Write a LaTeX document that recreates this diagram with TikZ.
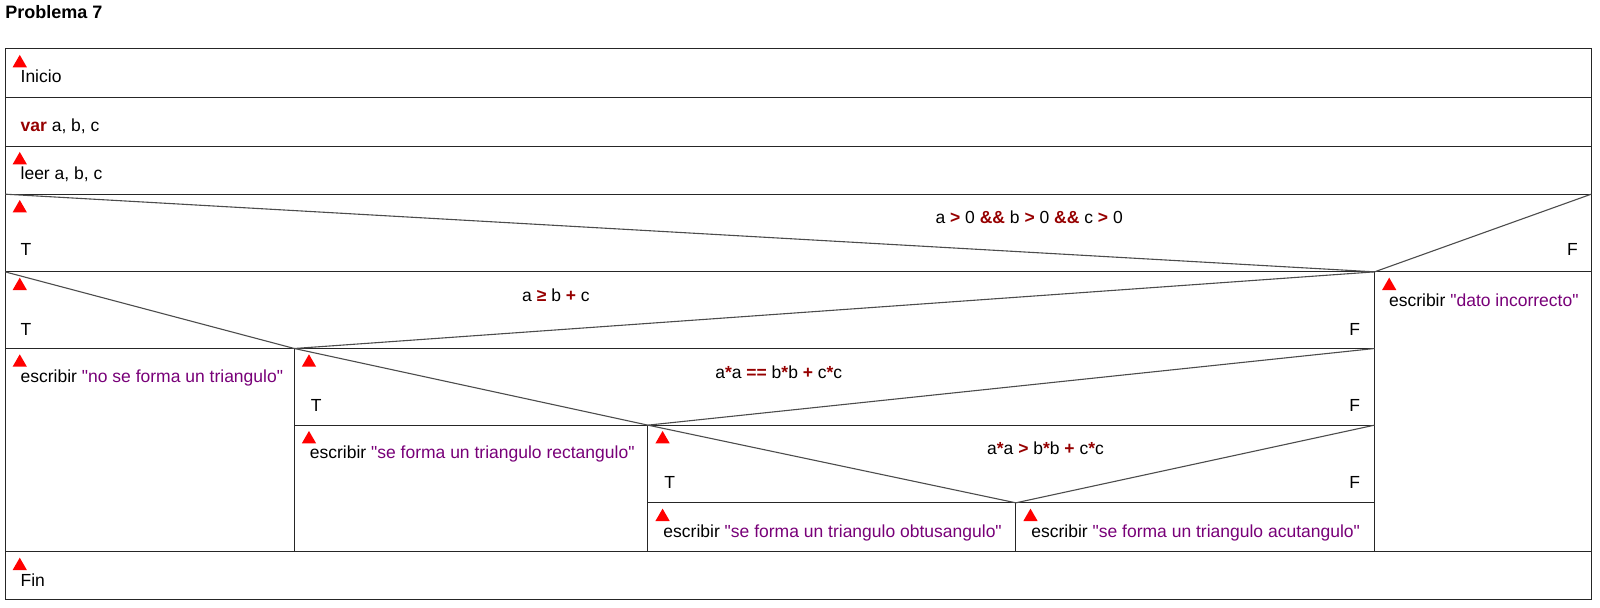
\documentclass[tikz,border=0pt]{standalone}
\usepackage{fontspec}
\setmainfont{Liberation Sans}[Ligatures=TeXOff]
\usepackage{xcolor}
\usepackage{tikz}
\usetikzlibrary{positioning,calc,shapes}
\definecolor{kwred}{RGB}{150,0,0}
\definecolor{strpur}{RGB}{120,0,120}
\newcommand{\kwd}[1]{\textcolor{kwred}{\textbf{#1}}}
\newcommand{\cad}[1]{\textcolor{strpur}{#1}}
\tikzstyle{mk}= [regular polygon, regular polygon sides=3, fill=red, inner sep=0pt, minimum size=16.5pt, anchor=corner 2]
\tikzstyle{txt}= [anchor=base west, inner sep=0pt]
\tikzstyle{cnd}= [anchor=base, inner sep=0pt]
\tikzstyle{fls}= [anchor=base east, inner sep=0pt]
\tikzstyle{ln}= [draw=black!85, line width=1pt]
\tikzstyle{dg}= [draw=black!70, line width=1.1pt]

\begin{document}
\begin{tikzpicture}[x=1.022pt, y=-1.022pt, font=\fontsize{17.5}{20}\selectfont]
				\useasboundingbox (0,0) rectangle (1565.6,594.9);
				\node[txt, font=\fontsize{18}{20}\selectfont\bfseries] (titulo) at (5,18) {Problema 7};
				% corners and split points
				\coordinate (nw) at (5,47);
				\coordinate (se) at (1557,587);
				\coordinate (r1) at (1557,190);
				\coordinate (l1) at (5,190);
				\coordinate (s1) at (1345,266);
				\coordinate (l2) at (5,266);
				\coordinate (s2) at (288,341);
				\coordinate (r3) at (1345,341);
				\coordinate (s3) at (634,416);
				\coordinate (r4) at (1345,416);
				\coordinate (s4) at (994,492);
				% boxes
				\draw[ln] (nw) rectangle (se);
				\draw[ln] (5,95) -- (1557,95);
				\draw[ln] (5,143) -- (1557,143);
				\draw[ln] (l1) -- (r1);
				\draw[ln] (l2) -- (1557,266);
				\draw[ln] (5,341) -- (r3);
				\draw[ln] (288,416) -- (r4);
				\draw[ln] (634,492) -- (1345,492);
				\draw[ln] (5,540) -- (1557,540);
				\draw[ln] (s1) -- (1345,540);
				\draw[ln] (s2) -- (288,540);
				\draw[ln] (s3) -- (634,540);
				\draw[ln] (s4) -- (994,540);
				% diagonals
				\draw[dg] (l1) -- (s1);
				\draw[dg] (r1) -- (s1);
				\draw[dg] (l2) -- (s2);
				\draw[dg] (s1) -- (s2);
				\draw[dg] (s2) -- (s3);
				\draw[dg] (r3) -- (s3);
				\draw[dg] (s3) -- (s4);
				\draw[dg] (r4) -- (s4);
				% texts
				\node[mk] (m1) at (12,66) {};
				\node[txt] (inicio) at (20,81) {Inicio};
				\node[txt] (var) at (20,129) {\kwd{var} a, b, c};
				\node[mk] (m2) at (12,161) {};
				\node[txt] (leer) at (20,176) {leer a, b, c};
				\node[mk] (m3) at (12,208) {};
				\node[cnd] (c1) at (1007,219) {a \kwd{>} 0 \kwd{\&\&} b \kwd{>} 0 \kwd{\&\&} c \kwd{>} 0};
				\node[txt] (t1) at (20,250) {T};
				\node[fls] (f1) at (1544,250) {F};
				\node[mk] (m4) at (12,284) {};
				\node[cnd] (c2) at (544,295) {a \kwd{≥} b \kwd{+} c};
				\node[txt] (t2) at (20,328) {T};
				\node[fls] (f2) at (1331,328) {F};
				\node[mk] (m5) at (1352,284) {};
				\node[txt] (dato) at (1359,300) {escribir \cad{"dato incorrecto"}};
				\node[mk] (m6) at (12,359) {};
				\node[txt] (noforma) at (20,374) {escribir \cad{"no se forma un triangulo"}};
				\node[mk] (m7) at (295,359) {};
				\node[cnd] (c3) at (762,370) {a\kwd{*}a \kwd{==} b\kwd{*}b \kwd{+} c\kwd{*}c};
				\node[txt] (t3) at (304,403) {T};
				\node[fls] (f3) at (1331,403) {F};
				\node[mk] (m8) at (295,434) {};
				\node[txt] (rect) at (303,449) {escribir \cad{"se forma un triangulo rectangulo"}};
				\node[mk] (m9) at (641,434) {};
				\node[cnd] (c4) at (1023,445) {a\kwd{*}a \kwd{>} b\kwd{*}b \kwd{+} c\kwd{*}c};
				\node[txt] (t4) at (650,478) {T};
				\node[fls] (f4) at (1331,478) {F};
				\node[mk] (m10) at (641,510) {};
				\node[txt] (obtu) at (649,526) {escribir \cad{"se forma un triangulo obtusangulo"}};
				\node[mk] (m11) at (1001,510) {};
				\node[txt] (acut) at (1009,526) {escribir \cad{"se forma un triangulo acutangulo"}};
				\node[mk] (m12) at (12,558) {};
				\node[txt] (fin) at (20,574) {Fin};
			\end{tikzpicture}
\end{document}
